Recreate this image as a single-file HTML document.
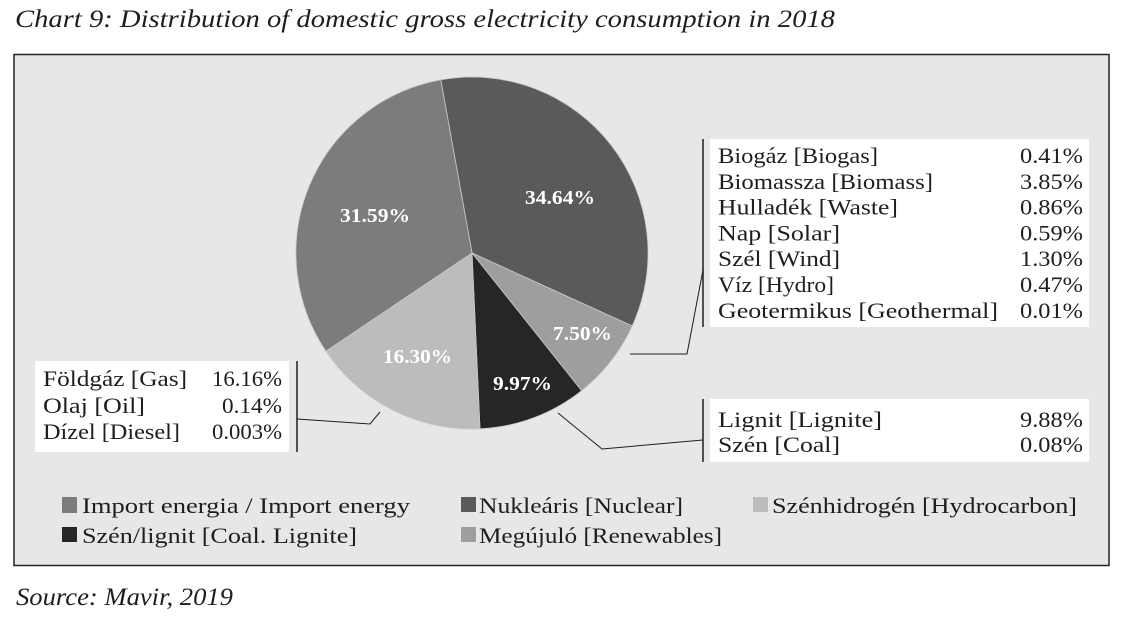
<!DOCTYPE html>
<html>
<head>
<meta charset="utf-8">
<style>
html,body{margin:0;padding:0;background:#fff;}
svg{display:block;}
text{font-family:"Liberation Serif",serif;}
</style>
</head>
<body>
<svg width="1124" height="632" viewBox="0 0 1124 632" xmlns="http://www.w3.org/2000/svg">
<rect x="0" y="0" width="1124" height="632" fill="#ffffff"/>
<!-- Title -->
<text x="15" y="27" font-size="25" font-style="italic" fill="#1e1e1e" textLength="820" lengthAdjust="spacingAndGlyphs">Chart 9: Distribution of domestic gross electricity consumption in 2018</text>

<!-- Chart box -->
<rect x="14" y="54.5" width="1095" height="511" fill="#e6e7e6" stroke="#222" stroke-width="1.5"/>

<!-- Pie -->
<g stroke="#c9c9c9" stroke-width="0.8">
<path d="M472,253 L440.8,79.8 A176,176 0 0 1 632.2,326.0 Z" fill="#5a5a5c"/>
<path d="M472,253 L632.2,326.0 A176,176 0 0 1 581.6,390.7 Z" fill="#9e9e9e"/>
<path d="M472,253 L581.6,390.7 A176,176 0 0 1 480.0,428.8 Z" fill="#272625"/>
<path d="M472,253 L480.0,428.8 A176,176 0 0 1 325.9,351.2 Z" fill="#bcbcbc"/>
<path d="M472,253 L325.9,351.2 A176,176 0 0 1 440.8,79.8 Z" fill="#7c7c7c"/>
</g>

<!-- Pie labels -->
<g fill="#ffffff" font-size="20" font-weight="bold" text-anchor="middle">
<text x="560" y="204" textLength="70" lengthAdjust="spacingAndGlyphs">34.64%</text>
<text x="375" y="222" textLength="70" lengthAdjust="spacingAndGlyphs">31.59%</text>
<text x="582.5" y="340" textLength="59" lengthAdjust="spacingAndGlyphs">7.50%</text>
<text x="417.5" y="363" textLength="69" lengthAdjust="spacingAndGlyphs">16.30%</text>
<text x="522.5" y="390" textLength="59" lengthAdjust="spacingAndGlyphs">9.97%</text>
</g>

<!-- Leader lines -->
<g fill="none" stroke="#1e1e1e" stroke-width="1">
<polyline points="630,354 687,354 703,270"/>
<polyline points="558,413 602,449 703,440"/>
<polyline points="380,412 370,424 297,419"/>
</g>

<!-- Right upper table -->
<rect x="710" y="139" width="379" height="188" fill="#ffffff"/>
<line x1="703" y1="139" x2="703" y2="327" stroke="#1e1e1e" stroke-width="1.5"/>
<g font-size="22" fill="#1e1e1e">
<text x="718" y="163" textLength="160" lengthAdjust="spacingAndGlyphs">Biogáz [Biogas]</text>
<text x="718" y="188.8" textLength="215" lengthAdjust="spacingAndGlyphs">Biomassza [Biomass]</text>
<text x="718" y="214.6" textLength="180" lengthAdjust="spacingAndGlyphs">Hulladék [Waste]</text>
<text x="718" y="240.4" textLength="122" lengthAdjust="spacingAndGlyphs">Nap [Solar]</text>
<text x="718" y="266.2" textLength="122" lengthAdjust="spacingAndGlyphs">Szél [Wind]</text>
<text x="718" y="292" textLength="116" lengthAdjust="spacingAndGlyphs">Víz [Hydro]</text>
<text x="718" y="317.8" textLength="280" lengthAdjust="spacingAndGlyphs">Geotermikus [Geothermal]</text>
</g>
<g font-size="22" fill="#1e1e1e" text-anchor="end">
<text x="1083" y="163" textLength="63" lengthAdjust="spacingAndGlyphs">0.41%</text>
<text x="1083" y="188.8" textLength="63" lengthAdjust="spacingAndGlyphs">3.85%</text>
<text x="1083" y="214.6" textLength="63" lengthAdjust="spacingAndGlyphs">0.86%</text>
<text x="1083" y="240.4" textLength="63" lengthAdjust="spacingAndGlyphs">0.59%</text>
<text x="1083" y="266.2" textLength="63" lengthAdjust="spacingAndGlyphs">1.30%</text>
<text x="1083" y="292" textLength="63" lengthAdjust="spacingAndGlyphs">0.47%</text>
<text x="1083" y="317.8" textLength="63" lengthAdjust="spacingAndGlyphs">0.01%</text>
</g>

<!-- Right lower table -->
<rect x="710" y="399" width="379" height="63" fill="#ffffff"/>
<line x1="703" y1="399" x2="703" y2="462" stroke="#1e1e1e" stroke-width="1.5"/>
<g font-size="22" fill="#1e1e1e">
<text x="718" y="427" textLength="164" lengthAdjust="spacingAndGlyphs">Lignit [Lignite]</text>
<text x="718" y="452" textLength="122" lengthAdjust="spacingAndGlyphs">Szén [Coal]</text>
</g>
<g font-size="22" fill="#1e1e1e" text-anchor="end">
<text x="1083" y="427" textLength="63" lengthAdjust="spacingAndGlyphs">9.88%</text>
<text x="1083" y="452" textLength="63" lengthAdjust="spacingAndGlyphs">0.08%</text>
</g>

<!-- Left table -->
<rect x="35" y="361" width="254" height="91" fill="#ffffff"/>
<line x1="297" y1="361" x2="297" y2="452" stroke="#1e1e1e" stroke-width="1.5"/>
<g font-size="22" fill="#1e1e1e">
<text x="43" y="386" textLength="144" lengthAdjust="spacingAndGlyphs">Földgáz [Gas]</text>
<text x="43" y="413" textLength="102" lengthAdjust="spacingAndGlyphs">Olaj [Oil]</text>
<text x="43" y="439" textLength="137" lengthAdjust="spacingAndGlyphs">Dízel [Diesel]</text>
</g>
<g font-size="22" fill="#1e1e1e" text-anchor="end">
<text x="282" y="386" textLength="70" lengthAdjust="spacingAndGlyphs">16.16%</text>
<text x="282" y="413" textLength="60" lengthAdjust="spacingAndGlyphs">0.14%</text>
<text x="282" y="439" textLength="70" lengthAdjust="spacingAndGlyphs">0.003%</text>
</g>

<!-- Legend -->
<rect x="62" y="497" width="15" height="16" fill="#7c7c7c"/>
<rect x="62" y="527" width="15" height="15" fill="#272625"/>
<rect x="461" y="497" width="15" height="15" fill="#5a5a5c"/>
<rect x="461" y="527" width="15" height="15" fill="#9e9e9e"/>
<rect x="753" y="497" width="15" height="15" fill="#bcbcbc"/>
<g font-size="22" fill="#1e1e1e">
<text x="82" y="513" textLength="328" lengthAdjust="spacingAndGlyphs">Import energia / Import energy</text>
<text x="82" y="543" textLength="275" lengthAdjust="spacingAndGlyphs">Szén/lignit [Coal. Lignite]</text>
<text x="479" y="513" textLength="204" lengthAdjust="spacingAndGlyphs">Nukleáris [Nuclear]</text>
<text x="479" y="543" textLength="243" lengthAdjust="spacingAndGlyphs">Megújuló [Renewables]</text>
<text x="772" y="513" textLength="305" lengthAdjust="spacingAndGlyphs">Szénhidrogén [Hydrocarbon]</text>
</g>

<!-- Source -->
<text x="16" y="605" font-size="25" font-style="italic" fill="#1e1e1e" textLength="217" lengthAdjust="spacingAndGlyphs">Source: Mavir, 2019</text>
</svg>
</body>
</html>
